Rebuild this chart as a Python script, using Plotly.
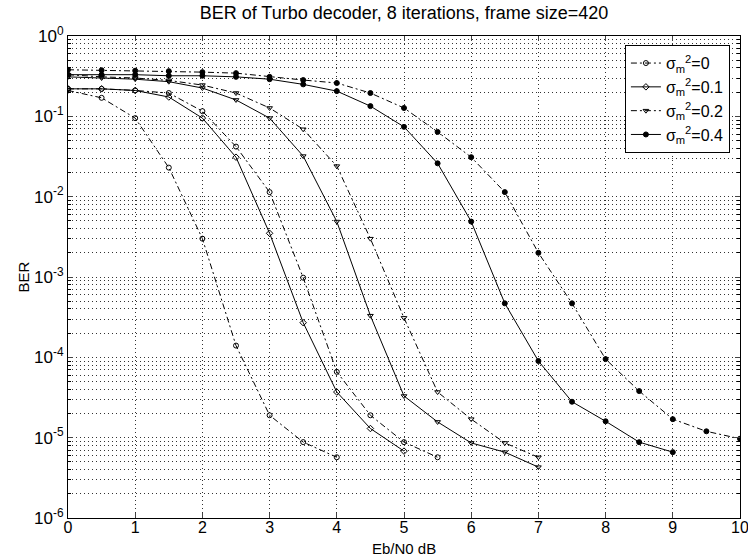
import plotly.graph_objects as go

# Eb/N0 grids (dB)
EBN0_A = [0, 0.5, 1, 1.5, 2, 2.5, 3, 3.5, 4]
EBN0_B = [0, 0.5, 1, 1.5, 2, 2.5, 3, 3.5, 4, 4.5, 5]
EBN0_C = [0, 0.5, 1, 1.5, 2, 2.5, 3, 3.5, 4, 4.5, 5, 5.5]
EBN0_D = [0, 0.5, 1, 1.5, 2, 2.5, 3, 3.5, 4, 4.5, 5, 5.5, 6, 6.5, 7]
EBN0_F = [0, 0.5, 1, 1.5, 2, 2.5, 3, 3.5, 4, 4.5, 5, 5.5, 6, 6.5, 7, 7.5, 8, 8.5, 9]
EBN0_G = [0, 0.5, 1, 1.5, 2, 2.5, 3, 3.5, 4, 4.5, 5, 5.5, 6, 6.5, 7, 7.5, 8, 8.5, 9, 9.5, 10]

# BER values
BER_S0_DASH = [0.21, 0.17, 0.095, 0.023, 3.0e-3, 1.4e-4, 1.9e-5, 8.8e-6, 5.7e-6]
BER_S01_SOLID = [0.22, 0.22, 0.21, 0.174, 0.095, 0.031, 3.5e-3, 2.7e-4, 3.7e-5, 1.3e-5, 6.8e-6]
BER_S01_DASH = [0.22, 0.22, 0.21, 0.195, 0.116, 0.042, 0.0114, 9.8e-4, 6.6e-5, 1.9e-5, 8.8e-6, 5.7e-6]
BER_S02_SOLID = [0.31, 0.30, 0.29, 0.27, 0.225, 0.16, 0.095, 0.032, 4.9e-3, 3.3e-4, 3.3e-5,
                 1.57e-5, 8.6e-6, 6.6e-6, 4.3e-6]
BER_S02_DASH = [0.33, 0.31, 0.30, 0.28, 0.245, 0.195, 0.127, 0.069, 0.024, 3.0e-3, 3.1e-4,
                3.7e-5, 1.7e-5, 8.6e-6, 5.7e-6]
BER_S04_SOLID = [0.33, 0.33, 0.33, 0.32, 0.32, 0.31, 0.29, 0.25, 0.206, 0.134, 0.074, 0.026,
                 4.9e-3, 4.7e-4, 9.0e-5, 2.8e-5, 1.6e-5, 8.8e-6, 6.6e-6]
BER_S04_DASH = [0.38, 0.375, 0.37, 0.365, 0.355, 0.345, 0.31, 0.283, 0.26, 0.195, 0.127, 0.064,
                0.031, 0.0114, 2.0e-3, 4.7e-4, 9.5e-5, 3.8e-5, 1.7e-5, 1.2e-5, 9.7e-6]

X_TICKS = [0, 1, 2, 3, 4, 5, 6, 7, 8, 9, 10]
Y_TICKS = [1e-6, 1e-5, 1e-4, 1e-3, 1e-2, 1e-1, 1]
Y_TICK_TEXT = ["10<sup>-6</sup>", "10<sup>-5</sup>", "10<sup>-4</sup>", "10<sup>-3</sup>",
               "10<sup>-2</sup>", "10<sup>-1</sup>", "10<sup>0</sup>"]

FONT = "Liberation Sans, Arial, sans-serif"
DASHDOT = "6px,3px,2px,3px"
GRID = "#333333"
GRID_DASH = "1px,3px"

curves = [
    # x, y, name, dash, marker symbol, show in legend
    (EBN0_A, BER_S0_DASH, "σ<sub>m</sub><sup>2</sup>=0", DASHDOT, "circle-open", True),
    (EBN0_B, BER_S01_SOLID, "σ<sub>m</sub><sup>2</sup>=0.1", "solid", "diamond-open", True),
    (EBN0_C, BER_S01_DASH, "", DASHDOT, "circle-open", False),
    (EBN0_D, BER_S02_SOLID, "", "solid", "triangle-down-open", False),
    (EBN0_D, BER_S02_DASH, "σ<sub>m</sub><sup>2</sup>=0.2", DASHDOT, "triangle-down-open", True),
    (EBN0_F, BER_S04_SOLID, "σ<sub>m</sub><sup>2</sup>=0.4", "solid", "circle", True),
    (EBN0_G, BER_S04_DASH, "", DASHDOT, "circle", False),
]

fig = go.Figure()

for x, y, name, dash, symbol, show in curves:
    fig.add_trace(go.Scatter(
        x=x,
        y=y,
        mode="lines+markers",
        name=name,
        showlegend=show,
        line=dict(color="black", width=1, dash=dash),
        marker=dict(symbol=symbol, size=5, color="black", line=dict(color="black", width=1)),
    ))

# legend order as in the reference
fig.data[0].legendrank = 1
fig.data[1].legendrank = 2
fig.data[4].legendrank = 3
fig.data[5].legendrank = 4

# x-axis label placed by hand
fig.add_annotation(
    text="Eb/N0 dB",
    xref="paper", yref="paper",
    x=0.5, y=-(548 - 518) / 482,
    xanchor="center", yanchor="middle",
    showarrow=False,
    font=dict(family=FONT, size=15, color="black"),
)

fig.update_layout(
    width=748,
    height=558,
    title=dict(
        text="BER of Turbo decoder, 8 iterations, frame size=420",
        x=(68 + 740) / 2 / 748,
        xanchor="center",
        y=1 - 13 / 558,
        yanchor="middle",
        font=dict(family=FONT, size=18, color="black"),
    ),
    xaxis=dict(
        range=[0, 10],
        tickvals=X_TICKS,
        ticks="inside",
        ticklen=5,
        ticklabelstandoff=-5,
        ticklabeloverflow="allow",
        showline=True,
        linecolor="black",
        linewidth=1,
        mirror="ticks",
        showgrid=True,
        gridcolor=GRID,
        griddash=GRID_DASH,
        gridwidth=1,
        zeroline=False,
        automargin=False,
        tickfont=dict(family=FONT, size=16, color="black"),
    ),
    yaxis=dict(
        type="log",
        range=[-6, 0],
        tickvals=Y_TICKS,
        ticktext=Y_TICK_TEXT,
        ticks="inside",
        ticklen=5,
        showline=True,
        linecolor="black",
        linewidth=1,
        mirror="ticks",
        showgrid=True,
        gridcolor=GRID,
        griddash=GRID_DASH,
        gridwidth=1,
        zeroline=False,
        automargin=False,
        minor=dict(dtick="D1", ticks="inside", ticklen=3, showgrid=True, gridcolor=GRID,
                   griddash=GRID_DASH, gridwidth=1, tickcolor="black"),
        tickfont=dict(family=FONT, size=17, color="black"),
        title=dict(text="BER", font=dict(family=FONT, size=15, color="black"), standoff=0),
    ),
    legend=dict(
        x=0.985,
        y=0.981,
        xanchor="right",
        yanchor="top",
        bgcolor="white",
        bordercolor="black",
        borderwidth=1,
        font=dict(family=FONT, size=16, color="black"),
        tracegroupgap=2,
    ),
    plot_bgcolor="white",
    paper_bgcolor="white",
    margin=dict(l=68, r=8, t=36, b=40),
)

# drop the default page margin so the 748x558 figure fills the window exactly
fig.write_html(
    "out.html",
    config={"displayModeBar": False},
    post_script="document.body.style.margin = '0px';",
)
